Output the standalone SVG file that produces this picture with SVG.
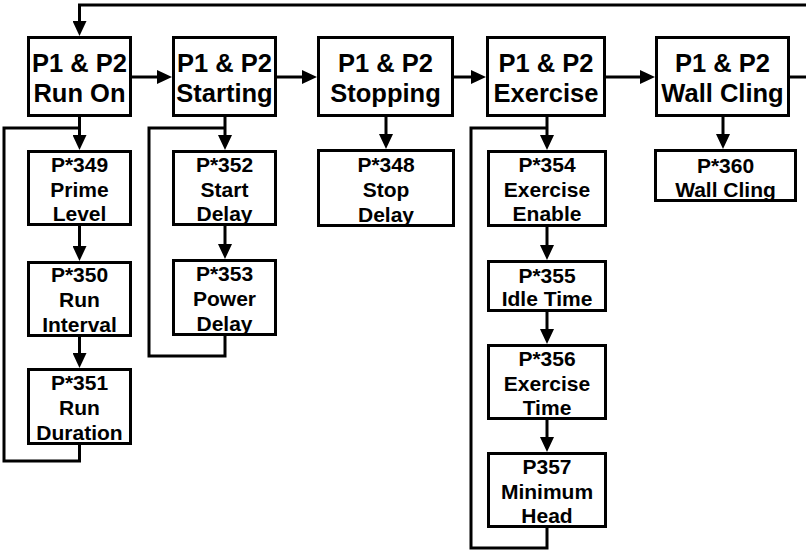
<svg xmlns="http://www.w3.org/2000/svg" width="806" height="553" viewBox="0 0 806 553">
<style>
.box{fill:#fff;stroke:#000;stroke-width:3}
.t{font-family:"Liberation Sans",Arial,sans-serif;font-weight:bold;fill:#000;text-anchor:middle}
.big{font-size:25.5px}
.sm{font-size:21px}
.c{fill:none;stroke:#000;stroke-width:3}
</style>
<defs>
<marker id="ah" viewBox="0 0 15 14" refX="7" refY="7" markerWidth="15" markerHeight="14" markerUnits="userSpaceOnUse" orient="auto">
<path d="M0,0 L15,7 L0,14 z" fill="#000"/>
</marker>
</defs>
<g id="connectors">
<polyline class="c" points="806,5 79.5,5 79.5,28" marker-end="url(#ah)"/>
<line class="c" x1="132" y1="77" x2="164" y2="77" marker-end="url(#ah)"/>
<line class="c" x1="277" y1="77" x2="309" y2="77" marker-end="url(#ah)"/>
<line class="c" x1="454" y1="77" x2="478" y2="77" marker-end="url(#ah)"/>
<line class="c" x1="606" y1="77" x2="647" y2="77" marker-end="url(#ah)"/>
<line class="c" x1="790" y1="77" x2="806" y2="77"/>
<line class="c" x1="79.5" y1="117" x2="79.5" y2="142" marker-end="url(#ah)"/>
<line class="c" x1="79.5" y1="226" x2="79.5" y2="253" marker-end="url(#ah)"/>
<line class="c" x1="79.5" y1="337" x2="79.5" y2="360" marker-end="url(#ah)"/>
<polyline class="c" points="79.5,445 79.5,461 4,461 4,128 79.5,128"/>
<line class="c" x1="225" y1="117" x2="225" y2="142" marker-end="url(#ah)"/>
<line class="c" x1="225" y1="226" x2="225" y2="251" marker-end="url(#ah)"/>
<polyline class="c" points="225,336 225,356 149,356 149,128 225,128"/>
<line class="c" x1="386" y1="117" x2="386" y2="141" marker-end="url(#ah)"/>
<line class="c" x1="547" y1="117" x2="547" y2="142" marker-end="url(#ah)"/>
<line class="c" x1="547" y1="227" x2="547" y2="252" marker-end="url(#ah)"/>
<line class="c" x1="547" y1="312" x2="547" y2="336" marker-end="url(#ah)"/>
<line class="c" x1="547" y1="420" x2="547" y2="444" marker-end="url(#ah)"/>
<polyline class="c" points="547,528 547,548 471,548 471,128 547,128"/>
<line class="c" x1="723" y1="117" x2="723" y2="141" marker-end="url(#ah)"/>
</g>
<g id="runon">
<rect class="box" x="28.5" y="37.5" width="102" height="78"/>
<text class="t big" x="79.5" y="72">P1 &amp; P2</text>
<text class="t big" x="79.5" y="102">Run On</text>
</g>
<g id="starting">
<rect class="box" x="173.5" y="37.5" width="102" height="78"/>
<text class="t big" x="224.5" y="72">P1 &amp; P2</text>
<text class="t big" x="224.5" y="102">Starting</text>
</g>
<g id="stopping">
<rect class="box" x="318.5" y="37.5" width="134" height="78"/>
<text class="t big" x="385.5" y="72">P1 &amp; P2</text>
<text class="t big" x="385.5" y="102">Stopping</text>
</g>
<g id="exercise">
<rect class="box" x="487.5" y="37.5" width="117" height="78"/>
<text class="t big" x="546" y="72">P1 &amp; P2</text>
<text class="t big" x="546" y="102">Exercise</text>
</g>
<g id="wallcling">
<rect class="box" x="656.5" y="37.5" width="132" height="78"/>
<text class="t big" x="722.5" y="72">P1 &amp; P2</text>
<text class="t big" x="722.5" y="102">Wall Cling</text>
</g>
<g id="p349">
<rect class="box" x="28.5" y="151.5" width="102" height="73"/>
<text class="t sm" x="79.5" y="172">P*349</text>
<text class="t sm" x="79.5" y="197">Prime</text>
<text class="t sm" x="79.5" y="221">Level</text>
</g>
<g id="p350">
<rect class="box" x="28.5" y="262.5" width="102" height="73"/>
<text class="t sm" x="79.5" y="282">P*350</text>
<text class="t sm" x="79.5" y="307">Run</text>
<text class="t sm" x="79.5" y="332">Interval</text>
</g>
<g id="p351">
<rect class="box" x="28.5" y="369.5" width="102" height="74"/>
<text class="t sm" x="79.5" y="390">P*351</text>
<text class="t sm" x="79.5" y="415">Run</text>
<text class="t sm" x="79.5" y="440">Duration</text>
</g>
<g id="p352">
<rect class="box" x="173.5" y="151.5" width="102" height="73"/>
<text class="t sm" x="224.5" y="172">P*352</text>
<text class="t sm" x="224.5" y="197">Start</text>
<text class="t sm" x="224.5" y="221">Delay</text>
</g>
<g id="p353">
<rect class="box" x="173.5" y="260.5" width="102" height="74"/>
<text class="t sm" x="224.5" y="281">P*353</text>
<text class="t sm" x="224.5" y="306">Power</text>
<text class="t sm" x="224.5" y="331">Delay</text>
</g>
<g id="p348">
<rect class="box" x="318.5" y="150.5" width="135" height="75"/>
<text class="t sm" x="386" y="172">P*348</text>
<text class="t sm" x="386" y="197">Stop</text>
<text class="t sm" x="386" y="222">Delay</text>
</g>
<g id="p354">
<rect class="box" x="488.5" y="151.5" width="117" height="74"/>
<text class="t sm" x="547" y="172">P*354</text>
<text class="t sm" x="547" y="197">Exercise</text>
<text class="t sm" x="547" y="221">Enable</text>
</g>
<g id="p355">
<rect class="box" x="488.5" y="261.5" width="117" height="49"/>
<text class="t sm" x="547" y="283">P*355</text>
<text class="t sm" x="547" y="306">Idle Time</text>
</g>
<g id="p356">
<rect class="box" x="488.5" y="345.5" width="117" height="73"/>
<text class="t sm" x="547" y="366">P*356</text>
<text class="t sm" x="547" y="391">Exercise</text>
<text class="t sm" x="547" y="415">Time</text>
</g>
<g id="p357">
<rect class="box" x="488.5" y="453.5" width="117" height="73"/>
<text class="t sm" x="547" y="474">P357</text>
<text class="t sm" x="547" y="499">Minimum</text>
<text class="t sm" x="547" y="523">Head</text>
</g>
<g id="p360">
<rect class="box" x="655.5" y="150.5" width="140" height="50"/>
<text class="t sm" x="725.5" y="173">P*360</text>
<text class="t sm" x="725.5" y="197">Wall Cling</text>
</g>
</svg>
